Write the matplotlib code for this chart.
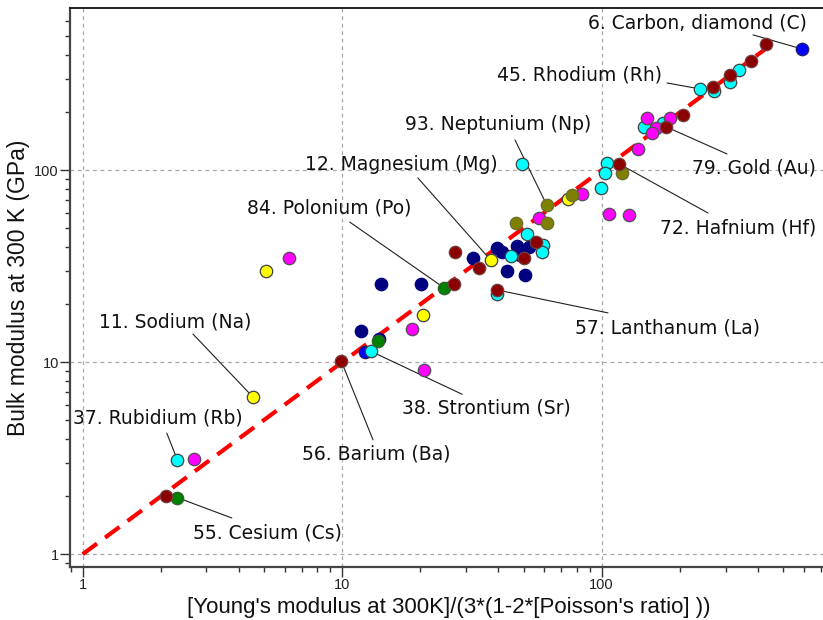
import matplotlib
matplotlib.use("Agg")
import matplotlib.pyplot as plt
from matplotlib.ticker import LogLocator, FuncFormatter, NullFormatter

# ---------------- data ----------------
cyan_x = [49.2, 51.7, 59.6, 59.0, 44.7, 39.4, 12.9, 99.1, 104.5, 103.0, 339.1, 312.2, 270.9, 239.3, 172.8, 146.0, 2.32]
cyan_y = [107.7, 46.5, 40.8, 37.6, 35.7, 22.7, 11.4, 81.1, 108.6, 97.1, 332.6, 289.0, 259.5, 264.8, 175.5, 167.3, 3.09]

magenta_x = [57.5, 83.8, 18.6, 20.7, 106.4, 127.8, 138.4, 183.3, 161.9, 149.1, 155.8, 2.69, 6.24]
magenta_y = [56.6, 75.2, 14.9, 9.07, 58.9, 58.4, 128.9, 186.3, 165.3, 186.3, 156.8, 3.14, 34.9]

yellow_x = [74.2, 37.3, 20.4, 4.52, 5.09]
yellow_y = [70.5, 34.1, 17.6, 6.61, 29.9]

olive_x = [61.4, 61.4, 46.6, 76.8, 119.7]
olive_y = [65.9, 53.3, 52.9, 74.3, 96.4]

navy_x = [52.5, 47.0, 48.4, 41.2, 39.4, 32.0, 43.0, 50.8, 14.1, 20.1, 11.8, 13.9]
navy_y = [40.0, 40.5, 36.2, 37.6, 39.2, 34.8, 30.0, 28.6, 25.5, 25.5, 14.5, 13.2]

blue_x = [12.2, 590.0]
blue_y = [11.3, 428.0]

green_x = [24.7, 13.8, 2.32]
green_y = [24.4, 12.9, 1.97]

darkred_x = [55.8, 50.3, 33.8, 27.3, 39.4, 27.0, 9.9, 116.9, 429.7, 375.1, 312.2, 267.8, 206.3, 176.5, 2.09]
darkred_y = [42.4, 35.0, 30.8, 37.6, 23.8, 25.5, 10.2, 107.7, 452.5, 371.8, 313.2, 270.3, 193.9, 168.5, 2.01]

fit_x = [1, 450]
fit_y = [1, 450]

label_texts = ["6. Carbon, diamond (C)", "45. Rhodium (Rh)", "93. Neptunium (Np)",
               "79. Gold (Au)", "12. Magnesium (Mg)", "72. Hafnium (Hf)",
               "84. Polonium (Po)", "57. Lanthanum (La)", "11. Sodium (Na)",
               "37. Rubidium (Rb)", "38. Strontium (Sr)", "56. Barium (Ba)",
               "55. Cesium (Cs)"]
label_x = [590.0, 239.3, 61.4, 176.5, 37.3, 116.9, 24.7, 39.4, 4.52, 2.32, 12.9, 9.9, 2.32]
label_y = [428.0, 264.8, 65.9, 168.5, 34.1, 107.7, 24.4, 23.8, 6.61, 3.09, 11.4, 10.2, 1.97]

x_label = "[Young's modulus at 300K]/(3*(1-2*[Poisson's ratio] ))"
y_label = "Bulk modulus at 300 K (GPa)"

# ---------------- layout of annotations (pixel offsets from point) ----------------
# (text dx, text dy, ha, line-start dx, line-start dy)
label_layout = [
    (5.3, 26, 'right', -48.7, 14),
    (-38, 14, 'right', -33, 6),
    (-48.7, 80, 'center', -31.7, 65),
    (26.3, -41.3, 'left', 61.3, -27.3),
    (7.3, 95, 'right', -72.7, 82),
    (40.7, -64, 'left', 88.7, -49),
    (-32.3, 79.7, 'right', -94.3, 65.7),
    (78.3, -38, 'left', 111.3, -23),
    (-153.7, 74.7, 'left', -59.7, 62.7),
    (-104.7, 42, 'left', -10.7, 27),
    (31.3, -57, 'left', 91.3, -43),
    (-39, -93.3, 'left', 32, -79.3),
    (15.3, -35.3, 'left', 54.3, -20.3),
]

W, H = 823, 620
fig = plt.figure(figsize=(W / 100, H / 100), dpi=100)
ax = fig.add_axes([70 / W, 1 - 567 / H, 1 - 70 / W, (567 - 8) / H])
ax.set_xscale('log')
ax.set_yscale('log')
ax.set_xlim(0.894, 712.5)
ax.set_ylim(0.858, 699)

ax.grid(True, which='major', linestyle=(0, (3, 3)), color='#a8a8a8', linewidth=0.9)
ax.set_axisbelow(True)

ax.plot(fit_x, fit_y, color='#ff0000', linewidth=3.0, linestyle=(0, (4.3, 2.4)),
        solid_capstyle='butt', zorder=2)

# annotation lines
for (lx, ly, lay) in zip(label_x, label_y, label_layout):
    ax.annotate('', xy=(lx, ly), xytext=(lay[3], lay[4]), textcoords='offset pixels',
                arrowprops=dict(arrowstyle='-', color='#202020', lw=0.8,
                                shrinkA=0, shrinkB=0), zorder=3)

S = 80
groups = [
    (navy_x, navy_y, '#000080', '#000080'),
    (blue_x, blue_y, '#0000ff', '#202060'),
    (cyan_x, cyan_y, '#00ffff', '#404040'),
    (magenta_x, magenta_y, '#ff00ff', '#505050'),
    (yellow_x, yellow_y, '#ffff00', '#404040'),
    (olive_x, olive_y, '#808000', '#6a6a30'),
    (green_x, green_y, '#008000', '#306030'),
    (darkred_x, darkred_y, '#8b0000', '#704040'),
]
for gx, gy, fc, ec in groups:
    ax.scatter(gx, gy, s=S, c=fc, edgecolors=ec, linewidths=0.9, zorder=4)

for txt, lx, ly, lay in zip(label_texts, label_x, label_y, label_layout):
    ax.annotate(txt, xy=(lx, ly), xytext=(lay[0], lay[1]), textcoords='offset pixels',
                ha=lay[2], va='center', fontsize=13.5, family='DejaVu Sans',
                color='#111111', zorder=5)

fmt = FuncFormatter(lambda v, p: f'{v:g}')
for axis in (ax.xaxis, ax.yaxis):
    axis.set_major_locator(LogLocator(base=10, numticks=10))
    axis.set_minor_locator(LogLocator(base=10, subs=range(2, 10), numticks=20))
    axis.set_major_formatter(fmt)
    axis.set_minor_formatter(NullFormatter())

ax.tick_params(which='major', length=7, width=1.0, color='#333333', labelsize=10.5,
               labelcolor='#222222', direction='out', pad=1)
ax.tick_params(which='minor', length=3.5, width=1.0, color='#333333', direction='out')
for lab in ax.get_xticklabels() + ax.get_yticklabels():
    lab.set_family('Liberation Sans')

for side in ('left', 'bottom'):
    ax.spines[side].set_color('#444444')
    ax.spines[side].set_linewidth(1.6)
ax.spines['top'].set_color('#222222')
ax.spines['top'].set_linewidth(1.4)
ax.spines['right'].set_visible(False)

ax.set_xlabel(x_label, fontsize=16, family='Liberation Sans', color='#111111')
ax.xaxis.set_label_coords(0.5 + (449 - 446.5) / 753, (567 - 607) / 559)
ax.xaxis.label.set_va('center')
ax.set_ylabel(y_label, fontsize=16.5, family='Liberation Sans', color='#111111', labelpad=3)

fig.savefig('out.png', dpi=100)
